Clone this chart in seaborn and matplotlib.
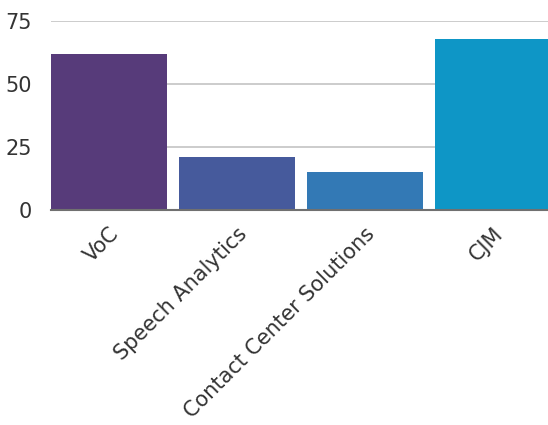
import matplotlib
matplotlib.use("Agg")
import matplotlib.pyplot as plt
import seaborn as sns
import pandas as pd

categories = ["VoC", "Speech Analytics", "Contact Center Solutions", "CJM"]
values = [62, 21, 15, 68]
colors = ["#573b7a", "#465a9c", "#3379b5", "#0e96c6"]
yticks = [0, 25, 50, 75]

sns.set_theme(style="white")
plt.rcParams['font.family'] = ['DejaVu Sans']

df = pd.DataFrame({"category": categories, "value": values})

fig = plt.figure(figsize=(5.48, 4.25), dpi=100)
ax = fig.add_axes([51/548, 1 - 210/425, 1 - 51/548, (210 - 21)/425])

sns.barplot(data=df, x="category", y="value", hue="category", palette=colors,
            width=0.906, dodge=False, legend=False, saturation=1, ax=ax,
            linewidth=0, zorder=2)

ax.set_xlim(-0.453, 3.43)
ax.set_ylim(0, 75)
ax.set_yticks(yticks)
ax.set_yticklabels([str(t) for t in yticks], fontsize=15, color="#333333")
ax.yaxis.grid(True, color="#c8c8c8", linewidth=1.3, zorder=0)
ax.set_axisbelow(True)
ax.set_xlabel("")
ax.set_ylabel("")
for s in ["top", "right", "left"]:
    ax.spines[s].set_visible(False)
ax.spines["bottom"].set_color("#707070")
ax.spines["bottom"].set_linewidth(1.5)
ax.tick_params(axis="both", length=0)
ax.tick_params(axis="x", pad=10)
ax.tick_params(axis="y", pad=14)
ax.set_xticks(range(len(categories)))
ax.set_xticklabels(categories, rotation=45, ha="right", rotation_mode="anchor",
                   fontsize=15, color="#333333")

fig.savefig("out.png", dpi=100)
